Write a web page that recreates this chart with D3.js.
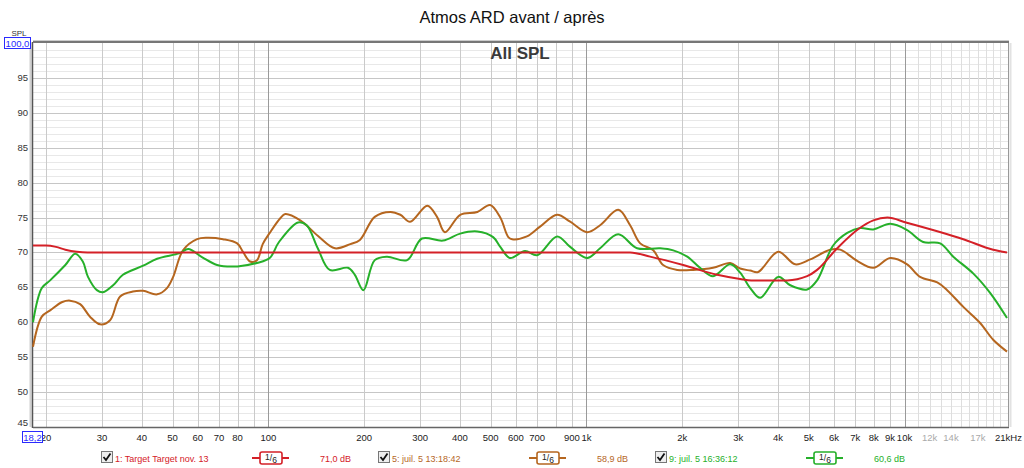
<!DOCTYPE html>
<html>
<head>
<meta charset="utf-8">
<script src="https://cdn.jsdelivr.net/npm/d3@7"></script>
<style>
    body { margin: 0; background: #fff; }
    svg { display: block; font-family: "Liberation Sans", Arial, sans-serif; }
</style>
</head>
<body>
<div id="chart"></div>
<script>
// [frequency Hz, SPL dB]
var targetPoints = [
    [18.2, 71.0], [20, 71.0], [21.5, 70.8], [23, 70.4], [25, 70.1], [27, 70.0],
    [1372, 70.0], [1585, 69.4], [2015, 68.2], [2577, 66.8], [3043, 66.2], [3300, 66.0],
    [4277, 66.0], [4942, 66.6], [5311, 67.5], [6143, 70.6], [7180, 73.4], [7981, 74.6],
    [8832, 75.0], [10100, 74.3], [15306, 71.9], [19000, 70.4], [21000, 70.0]
];

var julyMorning = [
    [18.2, 56.5], [19.4, 60.8], [20.6, 61.7], [22.5, 62.9], [23.8, 63.1], [25.6, 62.6],
    [27.5, 60.8], [29.6, 59.7], [31.8, 60.3], [34.2, 63.7], [37.5, 64.4], [40.4, 64.5],
    [44.7, 64.0], [48, 64.9], [50.2, 66.5], [53.9, 70.3], [59.7, 71.9], [64.2, 72.1],
    [72, 71.9], [79.8, 71.3], [83.2, 70.1], [87.6, 68.7], [92.1, 68.9], [96, 71.2],
    [101, 72.8], [109, 74.9], [113, 75.5], [126, 74.6], [143, 72.4], [162, 70.6],
    [181, 71.2], [194, 71.8], [216, 75.1], [242, 75.8], [260, 75.4], [279, 74.4],
    [316, 76.7], [339, 75.1], [359, 72.9], [401, 75.4], [454, 75.8], [498, 76.8],
    [536, 75.0], [568, 72.2], [584, 71.9], [650, 72.3], [715, 73.7], [809, 75.4],
    [889, 74.4], [1006, 72.9], [1104, 73.9], [1259, 76.1], [1372, 73.9], [1476, 71.3],
    [1622, 70.3], [1742, 68.2], [1929, 67.5], [2164, 67.5], [2501, 67.8], [2832, 68.5],
    [3043, 67.7], [3273, 67.4], [3467, 67.2], [4006, 70.1], [4533, 68.3], [5052, 69.0],
    [5835, 70.4], [6281, 70.4], [7098, 68.8], [7981, 67.8], [9018, 69.2], [10192, 68.3],
    [11193, 66.5], [12678, 65.7], [13614, 64.6], [15306, 62.2], [17290, 59.9],
    [19001, 57.5], [21000, 55.8]
];

var julyAfternoon = [
    [18.2, 60.0], [19.4, 64.9], [20.6, 66.0], [23, 68.2], [24.7, 69.8], [26.1, 68.7],
    [27.1, 66.5], [28.9, 64.6], [30.2, 64.3], [32.5, 65.3], [34.9, 66.8], [40.4, 68.1],
    [44.7, 69.1], [52.7, 69.9], [56, 70.5], [62, 69.3], [69, 68.2], [80, 68.0],
    [92, 68.5], [101, 69.2], [108, 71.5], [124, 74.3], [132, 73.9], [143, 70.6],
    [156, 67.5], [178, 67.8], [187, 66.8], [199, 64.6], [216, 68.9], [236, 69.4],
    [273, 68.9], [304, 72.0], [354, 71.7], [401, 72.7], [454, 73.0], [509, 72.2],
    [536, 70.8], [575, 69.2], [641, 70.2], [700, 69.6], [809, 72.3], [889, 70.8],
    [1006, 69.2], [1104, 70.6], [1259, 72.6], [1443, 70.6], [1707, 70.6], [1875, 70.3],
    [2075, 69.4], [2276, 67.8], [2501, 66.6], [2832, 68.3], [3043, 67.1], [3273, 64.9],
    [3517, 63.5], [4006, 66.5], [4374, 65.3], [4942, 64.7], [5311, 66.0], [5966, 71.0],
    [6607, 72.8], [7262, 73.5], [7981, 73.3], [9018, 74.1], [10192, 73.2], [11448, 71.5],
    [12944, 71.3], [14232, 69.4], [16435, 67.0], [18582, 64.2], [21000, 60.6]
];

var yTicks = [45, 50, 55, 60, 65, 70, 75, 80, 85, 90, 95];
var xTicks = [20, 30, 40, 50, 60, 70, 80, 100, 200, 300, 400, 500, 600, 700, 900, 1000,
    2000, 3000, 4000, 5000, 6000, 7000, 8000, 9000, 10000, 12000, 14000, 17000];
var xTickLabels = ["20", "30", "40", "50", "60", "70", "80", "100", "200", "300", "400", "500",
    "600", "700", "900", "1k", "2k", "3k", "4k", "5k", "6k", "7k", "8k", "9k", "10k", "12k", "14k", "17k"];
var fadedTicks = [12000, 14000, 17000];

var series = [
    { name: "5: juil. 5 13:18:42", level: "58,9 dB", color: "#b5661f", points: julyMorning, smooth: true },
    { name: "9: juil. 5 16:36:12", level: "60,6 dB", color: "#26b02a", points: julyAfternoon, smooth: true },
    { name: "1: Target Target nov. 13", level: "71,0 dB", color: "#d42027", points: targetPoints, smooth: false }
];
var legendOrder = [2, 0, 1];

function makeChart() {
    var width = 1024,
        height = 468,
        left = 33,
        right = 1008,
        top = 43,
        bottom = 427;

    var svg = d3
        .select("#chart")
        .append("svg")
        .attr("width", width)
        .attr("height", height);

    var x = d3.scaleLog().domain([18.2, 21000]).range([left, 1007]);
    var y = d3.scaleLinear().domain([45, 100]).range([bottom, top]);

    // title
    svg.append("text")
        .attr("x", 512)
        .attr("y", 23)
        .attr("text-anchor", "middle")
        .style("font-size", "16.5px")
        .style("fill", "#111")
        .text("Atmos ARD avant / après");

    // horizontal grid, 1 dB minor and 5 dB major
    var grid = svg.append("g");
    d3.range(46, 100).forEach((v) => {
        grid.append("line")
            .attr("x1", left).attr("x2", right)
            .attr("y1", Math.round(y(v)) + 0.5).attr("y2", Math.round(y(v)) + 0.5)
            .attr("stroke", v % 5 === 0 ? "#c6c6c6" : "#e8e8e8")
            .attr("stroke-width", 1);
    });

    // vertical grid
    var gridFreqs = [];
    [10, 100, 1000].forEach((dec) => {
        d3.range(1, 10).forEach((m) => {
            var f = dec * m;
            if (f > 18.2) gridFreqs.push(f);
        });
    });
    d3.range(10000, 21000, 1000).forEach((f) => gridFreqs.push(f));
    gridFreqs.forEach((f) => {
        var decade = f === 100 || f === 1000 || f === 10000;
        grid.append("line")
            .attr("x1", Math.round(x(f)) + 0.5).attr("x2", Math.round(x(f)) + 0.5)
            .attr("y1", top).attr("y2", bottom)
            .attr("stroke", decade ? "#9a9a9a" : f > 10000 ? "#dedede" : "#cacaca")
            .attr("stroke-width", 1);
    });

    // frame
    svg.append("line").attr("x1", 30.5).attr("x2", 30.5).attr("y1", top).attr("y2", bottom)
        .attr("stroke", "#d0d0d0").attr("stroke-width", 2);
    svg.append("line").attr("x1", left - 0.5).attr("x2", left - 0.5).attr("y1", top - 1).attr("y2", bottom + 1)
        .attr("stroke", "#555").attr("stroke-width", 1.5);
    svg.append("line").attr("x1", left).attr("x2", right + 1).attr("y1", top - 1).attr("y2", top - 1)
        .attr("stroke", "#777").attr("stroke-width", 2);
    svg.append("line").attr("x1", left).attr("x2", right + 1).attr("y1", top - 2.5).attr("y2", top - 2.5)
        .attr("stroke", "#ccc").attr("stroke-width", 1);
    svg.append("line").attr("x1", left).attr("x2", right + 1).attr("y1", bottom + 0.5).attr("y2", bottom + 0.5)
        .attr("stroke", "#666").attr("stroke-width", 1.5);
    svg.append("line").attr("x1", right + 0.5).attr("x2", right + 0.5).attr("y1", top).attr("y2", bottom)
        .attr("stroke", "#999").attr("stroke-width", 1);
    svg.append("line").attr("x1", right + 2.5).attr("x2", right + 2.5).attr("y1", top).attr("y2", bottom)
        .attr("stroke", "#e2e2e2").attr("stroke-width", 2);

    svg.append("text")
        .attr("x", 520)
        .attr("y", 59)
        .attr("text-anchor", "middle")
        .style("font-size", "17px")
        .style("font-weight", "bold")
        .style("fill", "#3a3a3a")
        .text("All SPL");

    // y labels
    svg.selectAll(".ylab")
        .data(yTicks)
        .enter()
        .append("text")
        .attr("x", 28)
        .attr("y", (d) => y(d) + (d === 45 ? -1 : 3))
        .attr("text-anchor", "end")
        .style("font-size", "9.5px")
        .style("fill", "#333")
        .text((d) => d);

    svg.append("text")
        .attr("x", 19).attr("y", 36)
        .attr("text-anchor", "middle")
        .style("font-size", "8px")
        .style("fill", "#333")
        .text("SPL");
    svg.append("rect")
        .attr("x", 4.5).attr("y", 37.5).attr("width", 26).attr("height", 11)
        .attr("fill", "#fff").attr("stroke", "#2a2aff");
    svg.append("text")
        .attr("x", 17.5).attr("y", 46.5)
        .attr("text-anchor", "middle")
        .style("font-size", "9.5px")
        .style("fill", "#2a2aff")
        .text("100,0");

    // x labels
    svg.selectAll(".xlab")
        .data(xTicks)
        .enter()
        .append("text")
        .attr("x", (d) => x(d))
        .attr("y", 441)
        .attr("text-anchor", "middle")
        .style("font-size", "9.5px")
        .style("fill", (d) => (fadedTicks.indexOf(d) >= 0 ? "#aaa" : "#222"))
        .text((d, i) => xTickLabels[i]);
    svg.append("text")
        .attr("x", 995).attr("y", 441)
        .style("font-size", "9.5px")
        .style("fill", "#222")
        .text("21kHz");

    svg.append("rect")
        .attr("x", 22.5).attr("y", 431.5).attr("width", 20).attr("height", 11)
        .attr("fill", "#fff").attr("stroke", "#2a2aff");
    svg.append("text")
        .attr("x", 32.5).attr("y", 441)
        .attr("text-anchor", "middle")
        .style("font-size", "9.5px")
        .style("fill", "#2a2aff")
        .text("18,2");

    // curves: measurements smoothed, target kept flat between its knees
    var smoothLine = d3
        .line()
        .curve(d3.curveCatmullRom.alpha(0.5))
        .x((d) => x(d[0]))
        .y((d) => y(d[1]));
    var flatLine = d3
        .line()
        .curve(d3.curveMonotoneX)
        .x((d) => x(d[0]))
        .y((d) => y(d[1]));

    svg.selectAll(".curve")
        .data(series)
        .enter()
        .append("path")
        .attr("class", "curve")
        .attr("fill", "none")
        .attr("stroke", (d) => d.color)
        .attr("stroke-width", 2)
        .attr("stroke-linejoin", "round")
        .attr("d", (d) => (d.smooth ? smoothLine(d.points) : flatLine(d.points)));

    // legend
    var legendX = [101, 378, 655];
    var ly = 458;
    legendOrder.forEach((si, i) => {
        var s = series[si];
        var g = svg.append("g").attr("transform", "translate(" + legendX[i] + ",0)");
        g.append("rect")
            .attr("x", 0.5).attr("y", ly - 6.5).attr("width", 11).attr("height", 11)
            .attr("fill", "#eee").attr("stroke", "#777");
        g.append("path")
            .attr("d", "M2.5," + (ly - 1) + " L5," + (ly + 2) + " L9.5," + (ly - 4.5))
            .attr("fill", "none").attr("stroke", "#111").attr("stroke-width", 1.8);
        g.append("text")
            .attr("x", 14).attr("y", ly + 3.5)
            .style("font-size", "9px")
            .style("fill", s.color)
            .text(s.name);

        g.append("line")
            .attr("x1", 151).attr("x2", 188).attr("y1", ly).attr("y2", ly)
            .attr("stroke", s.color).attr("stroke-width", 2);
        g.append("rect")
            .attr("x", 159).attr("y", ly - 6).attr("width", 22).attr("height", 12).attr("rx", 2)
            .attr("fill", "#fff").attr("stroke", s.color).attr("stroke-width", 1.6);
        var frac = g.append("text")
            .attr("x", 170).attr("y", ly + 3)
            .attr("text-anchor", "middle")
            .style("font-size", "8.5px")
            .style("fill", "#222");
        frac.append("tspan").attr("dy", -1.5).text("1");
        frac.append("tspan").attr("dy", 1.5).text("/");
        frac.append("tspan").attr("dy", 1.5).text("6");

        g.append("text")
            .attr("x", 219).attr("y", ly + 3.5)
            .style("font-size", "9px")
            .style("fill", s.color)
            .text(s.level);
    });
}

makeChart();
</script>
</body>
</html>
